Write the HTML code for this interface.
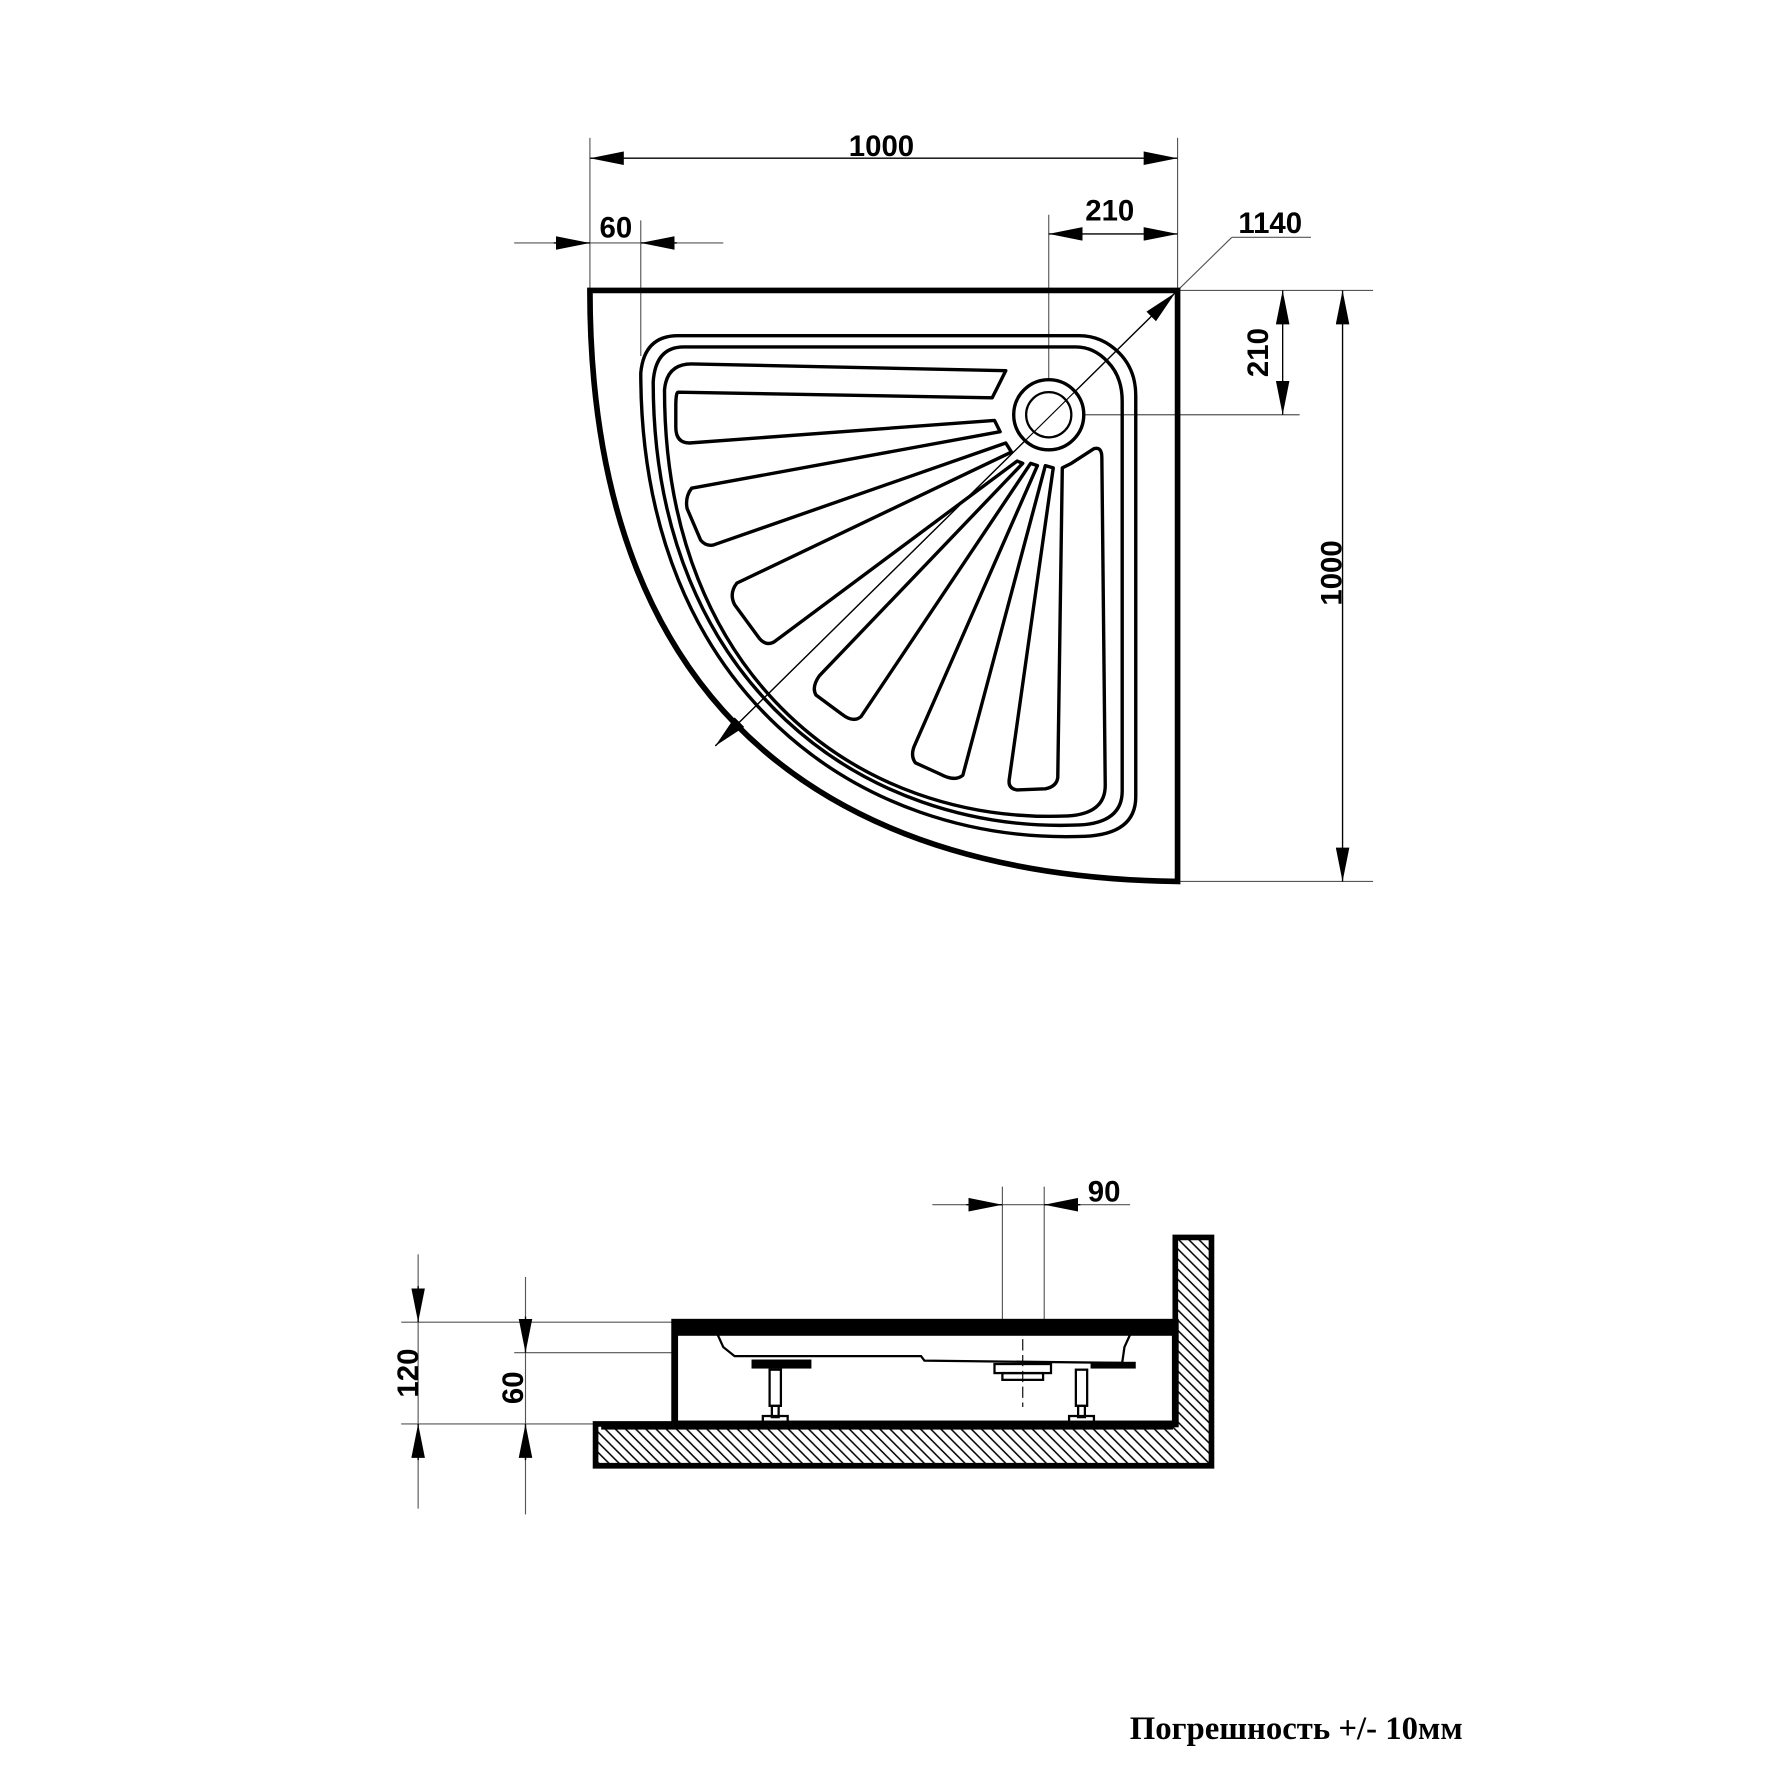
<!DOCTYPE html>
<html><head><meta charset="utf-8"><style>html,body{margin:0;padding:0;background:#fff}svg{display:block}</style></head>
<body>
<svg width="1772" height="1772" viewBox="0 0 1568 1568" xmlns="http://www.w3.org/2000/svg">
<defs>
<marker id="a" viewBox="0 0 30 12" refX="30" refY="6" markerWidth="30" markerHeight="12" markerUnits="userSpaceOnUse" orient="auto"><path d="M0,0 L30,6 L0,12 Z" fill="#000"/></marker>
<marker id="b" viewBox="0 0 30 12" refX="0" refY="6" markerWidth="30" markerHeight="12" markerUnits="userSpaceOnUse" orient="auto"><path d="M30,0 L0,6 L30,12 Z" fill="#000"/></marker>
<pattern id="h" width="9" height="9" patternUnits="userSpaceOnUse"><path d="M-2,-2 L11,11 M-2,7 L2,11 M7,-2 L11,2" stroke="#000" stroke-width="1.3"/></pattern>
</defs>
<g fill="none" stroke="#000">
<g stroke-width="1" stroke="#555">
<line x1="522" y1="122" x2="522" y2="257"/><line x1="1042" y1="122" x2="1042" y2="257"/>
<line x1="567" y1="195" x2="567" y2="315"/><line x1="928" y1="190" x2="928" y2="340"/>
<line x1="455" y1="215" x2="640" y2="215"/>
<line x1="1042" y1="257" x2="1215" y2="257"/><line x1="960" y1="367" x2="1150" y2="367"/><line x1="1042" y1="780" x2="1215" y2="780"/>
<line x1="1042" y1="257" x2="1090" y2="210"/><line x1="1090" y1="210" x2="1160" y2="210"/>
<line x1="355" y1="1170" x2="600" y2="1170"/><line x1="355" y1="1260" x2="530" y2="1260"/><line x1="455" y1="1197" x2="640" y2="1197"/>
<line x1="370" y1="1110" x2="370" y2="1335"/><line x1="465" y1="1130" x2="465" y2="1340"/>
<line x1="887" y1="1050" x2="887" y2="1205"/><line x1="924" y1="1050" x2="924" y2="1205"/><line x1="825" y1="1066" x2="1000" y2="1066"/>
</g>
<g stroke-width="1.2">
<line x1="522" y1="140" x2="1042" y2="140" marker-start="url(#b)" marker-end="url(#a)"/>
<line x1="928" y1="207" x2="1042" y2="207" marker-start="url(#b)" marker-end="url(#a)"/>
<line x1="1135" y1="257" x2="1135" y2="367" marker-start="url(#b)" marker-end="url(#a)"/>
<line x1="1188" y1="257" x2="1188" y2="780" marker-start="url(#b)" marker-end="url(#a)"/>
<line x1="1040" y1="259" x2="633" y2="660" marker-start="url(#b)" marker-end="url(#a)"/>
<line x1="490" y1="215" x2="522" y2="215" marker-end="url(#a)"/>
<line x1="599" y1="215" x2="567" y2="215" marker-end="url(#a)"/>
<line x1="370" y1="1138" x2="370" y2="1170" marker-end="url(#a)"/>
<line x1="370" y1="1292" x2="370" y2="1260" marker-end="url(#a)"/>
<line x1="465" y1="1165" x2="465" y2="1197" marker-end="url(#a)"/>
<line x1="465" y1="1292" x2="465" y2="1260" marker-end="url(#a)"/>
<line x1="855" y1="1066" x2="887" y2="1066" marker-end="url(#a)"/>
<line x1="956" y1="1066" x2="924" y2="1066" marker-end="url(#a)"/>
</g>
<path d="M522,257 L1042,257 L1042,780 C760,776 522,650 522,257 Z" stroke-width="5" stroke-linejoin="miter"/>
<path d="M567,330 Q570,297 600,297 L955,297 Q975,297 990,312 Q1005,327 1005,350 L1005,705 Q1005,738 960,740 C760,748 567,610 567,330 Z" stroke-width="3"/>
<path d="M578,338 Q580,307 605,307 L952,307 Q968,307 980,320 Q993,333 993,355 L993,700 Q993,728 955,730 C765,738 578,605 578,338 Z" stroke-width="3"/>
<path d="M588,345 Q590,322 612,322 L890,328 L878,352 L600,347 Q598,347 598,360 L598,378 Q598,392 610,392 L880,372 L885,382 L612,432 Q606,440 608,450 L620,478 Q625,484 632,482 L890,392 L895,400 L652,516 Q645,525 650,535 L672,565 Q678,572 685,568 L900,408 L905,410 L725,598 Q718,608 722,615 L745,632 Q755,640 762,634 L912,410 L918,412 L810,658 Q805,668 810,675 L832,685 Q845,692 852,686 L925,412 L932,414 L893,690 Q892,698 900,699 L925,698 Q935,696 936,688 L940,414 L948,410 L968,397 Q975,395 975,405 L978,695 Q978,720 945,722 C760,730 588,600 588,345 Z" stroke-width="3" stroke-linejoin="round"/>
<circle cx="928" cy="367" r="31" stroke-width="3" fill="#fff"/>
<circle cx="928" cy="367" r="20" stroke-width="2"/>
<line x1="1040" y1="259" x2="633" y2="660" stroke-width="1"/>
<path d="M527,1260 L1040,1260 L1040,1095 L1072,1095 L1072,1297 L527,1297 Z" fill="url(#h)" stroke-width="5"/>
<rect x="532" y="1262" width="506" height="3" fill="#000" stroke="none"/>
<rect x="597" y="1170" width="443" height="90" fill="#fff" stroke-width="6"/>
<rect x="597" y="1168" width="443" height="14" fill="#000" stroke="none"/>
<path d="M635,1181 L640,1192 L650,1200 L815,1200 L818,1204 L993,1206 L995,1192 L1000,1181" stroke-width="2"/>
<rect x="665" y="1203" width="53" height="8" fill="#000" stroke="none"/>
<rect x="965" y="1205" width="40" height="6" fill="#000" stroke="none"/>
<rect x="681" y="1212" width="10" height="32" stroke-width="2"/><rect x="683" y="1244" width="6" height="10" stroke-width="2"/>
<rect x="675" y="1253" width="22" height="6" stroke-width="2"/>
<rect x="952" y="1212" width="10" height="32" stroke-width="2"/><rect x="954" y="1244" width="6" height="10" stroke-width="2"/>
<rect x="946" y="1253" width="22" height="6" stroke-width="2"/>
<rect x="880" y="1207" width="50" height="8" stroke-width="2"/><rect x="887" y="1215" width="36" height="6" stroke-width="2"/>
<line x1="905" y1="1185" x2="905" y2="1245" stroke-width="1" stroke-dasharray="10,4"/>
</g>
<g font-family="Liberation Sans, sans-serif" font-weight="bold" font-size="26" fill="#000" text-anchor="middle">
<text x="780" y="138">1000</text>
<text x="545" y="210">60</text>
<text x="982" y="195">210</text>
<text x="1124" y="206">1140</text>
<text transform="translate(1122,312) rotate(-90)">210</text>
<text transform="translate(1187,507) rotate(-90)">1000</text>
<text x="977" y="1063">90</text>
<text transform="translate(370,1215) rotate(-90)">120</text>
<text transform="translate(463,1228) rotate(-90)">60</text>
</g>
<text x="1147" y="1539" text-anchor="middle" font-family="Liberation Serif, serif" font-weight="bold" font-size="29" fill="#000">Погрешность +/- 10мм</text>
</svg>
</body></html>
